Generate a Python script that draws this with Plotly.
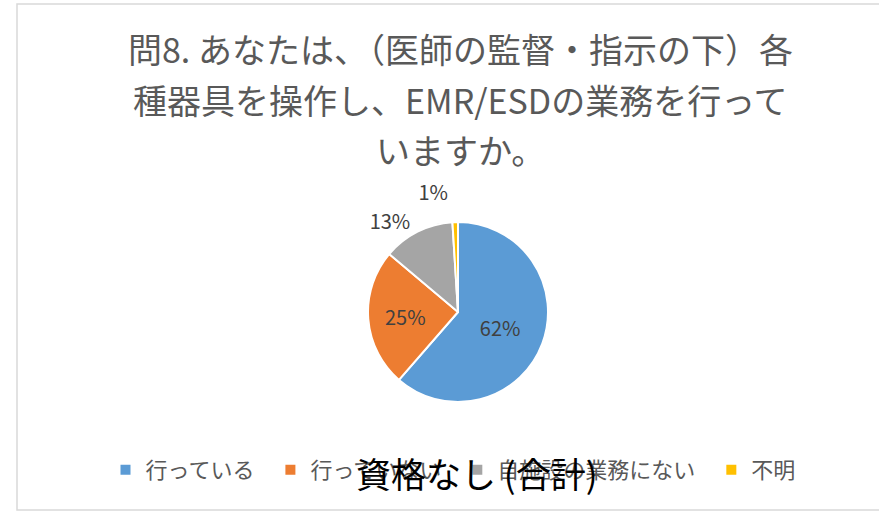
import plotly.graph_objects as go

labels = ["行っている", "行っていない", "自施設の業務にない", "不明"]
values = [62, 25, 13, 1]
colors = ["#5B9BD5", "#ED7D31", "#A5A5A5", "#FFC000"]
text_positions = ["inside", "inside", "outside", "outside"]

title_lines = [
    "問8. あなたは、（医師の監督・指示の下）各",
    "種器具を操作し、EMR/ESDの業務を行って",
    "いますか。",
]
overlay_text = "資格なし (合計)"

W, H = 879, 513
FONT = "Noto Sans CJK JP"

# pad legend entries to mimic the wider spacing between items
pad = "\u2002"
legend_labels = [l + pad if i < len(labels) - 1 else l for i, l in enumerate(labels)]

fig = go.Figure()
fig.add_trace(go.Pie(
    labels=legend_labels,
    values=values,
    marker=dict(colors=colors, line=dict(color="white", width=2)),
    sort=False,
    direction="clockwise",
    rotation=0,
    textposition=text_positions,
    texttemplate="%{value}%",
    textfont=dict(family=FONT, size=20, color="#404040"),
    domain=dict(x=[(458 - 90) / W, (458 + 90) / W], y=[(H - 402) / H, (H - 222) / H]),
    hoverinfo="label+percent",
))

title_y = [48, 99, 149]
annotations = []
for line, yp in zip(title_lines, title_y):
    annotations.append(dict(
        text=line, x=460 / W, y=(H - yp) / H, xref="paper", yref="paper",
        xanchor="center", yanchor="middle", showarrow=False,
        font=dict(family=FONT, size=34, color="#595959"),
    ))
annotations.append(dict(
    text=overlay_text, x=477 / W, y=(H - 472) / H, xref="paper", yref="paper",
    xanchor="center", yanchor="middle", showarrow=False,
    font=dict(family=FONT, size=35, color="#000000"),
))

fig.update_layout(
    width=W, height=H,
    margin=dict(l=0, r=0, t=0, b=0),
    paper_bgcolor="white",
    plot_bgcolor="white",
    showlegend=True,
    legend=dict(
        orientation="h", x=453 / W, xanchor="center", y=(H - 470) / H, yanchor="middle",
        font=dict(family=FONT, size=22, color="#595959"),
        bgcolor="rgba(0,0,0,0)",
    ),
    annotations=annotations,
    shapes=[dict(
        type="rect", xref="paper", yref="paper",
        x0=17 / W, x1=1.02, y0=(H - 510) / H, y1=(H - 4) / H,
        line=dict(color="#D9D9D9", width=1.5), layer="below",
    )],
)

fig.write_html(
    "out.html", config={"displayModeBar": False},
    post_script=(
        "document.body.style.margin='0';"
        "document.querySelectorAll('path.textline').forEach(function(p){p.style.display='none';});"
    ),
)
